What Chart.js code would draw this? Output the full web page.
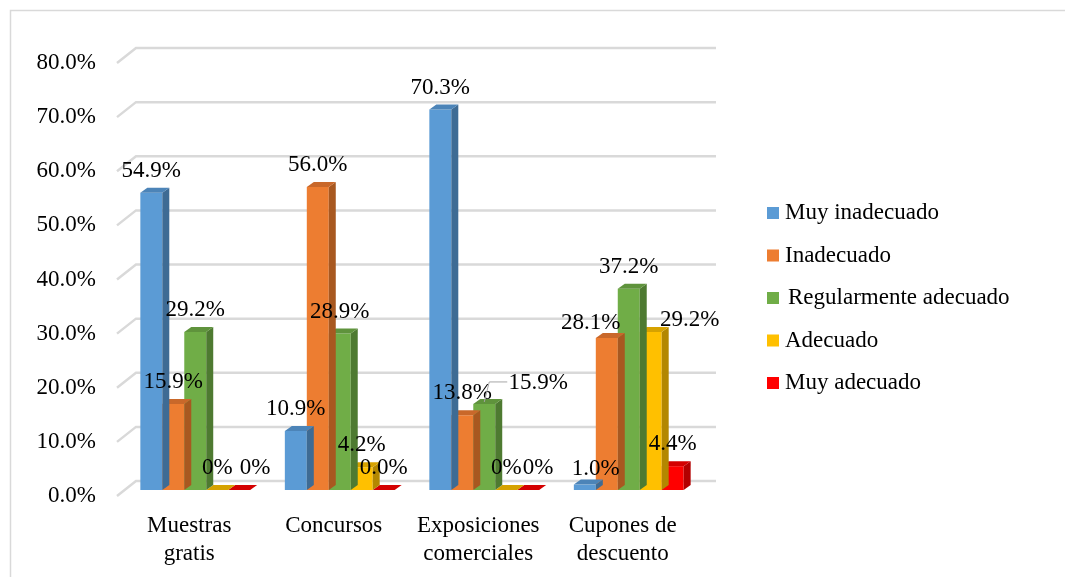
<!DOCTYPE html>
<html lang="es">
<head>
  <meta charset="UTF-8">
  <title>Promociones</title>
  <script src="https://cdn.jsdelivr.net/npm/chart.js"></script>
  <style>
    body { margin: 0; background: #fff; }
    #wrap { position: relative; width: 1065px; height: 577px; }
  </style>
</head>
<body>
  <div id="wrap"><canvas id="grafico"></canvas></div>

<script>
  // datos
  const categorias = [['Muestras', 'gratis'], ['Concursos'], ['Exposiciones', 'comerciales'], ['Cupones de', 'descuento']];
  const series = ['Muy inadecuado', 'Inadecuado', 'Regularmente adecuado', 'Adecuado', 'Muy adecuado'];
  const muyInadecuado = [54.9, 10.9, 70.3, 1.0];
  const inadecuado = [15.9, 56.0, 13.8, 28.1];
  const regular = [29.2, 28.9, 15.9, 37.2];
  const adecuado = [0, 4.2, 0, 29.2];
  const muyAdecuado = [0, 0, 0, 4.4];
  const ticksY = [0, 10, 20, 30, 40, 50, 60, 70, 80];

  // colores: frente, lado, tapa
  const colores = [
    ['#5b9bd5', '#3e6b94', '#4c84b8'],
    ['#ed7d31', '#a85820', '#c9682a'],
    ['#70ad47', '#4e7a31', '#5f933c'],
    ['#ffc000', '#b38700', '#d6a200'],
    ['#ff0000', '#b30000', '#d40000']
  ];

  const fuente = '"Liberation Serif", "Times New Roman", serif';
  const tam = 23;

  // etiquetas movidas a mano (serie-categoria)
  const ajusteEtiqueta = {
    '4-0': [16, 0],
    '2-2': [54, 1],
    '4-2': [10, 0],
    '0-3': [11, 6],
    '1-3': [-16, 7],
    '3-3': [39, 10]
  };
  const textoEtiqueta = { '4-1': '0.0%' };

  const DX = 7, DY = -5;  // profundidad de las barras

  function poly(ctx, pts, color) {
    ctx.beginPath();
    ctx.moveTo(pts[0][0], pts[0][1]);
    for (let i = 1; i < pts.length; i++) ctx.lineTo(pts[i][0], pts[i][1]);
    ctx.closePath();
    ctx.fillStyle = color;
    ctx.fill();
  }

  const marco = {
    id: 'marco',
    beforeDraw(chart) {
      const ctx = chart.ctx;
      ctx.save();
      ctx.strokeStyle = '#d9d9d9';
      ctx.lineWidth = 1.5;
      ctx.strokeRect(10.5, 10.5, 1080, 600);
      ctx.restore();
    },
    beforeDatasetsDraw(chart) {
      // rejilla en perspectiva
      const ctx = chart.ctx;
      const y = chart.scales.y;
      const a = chart.chartArea;
      ctx.save();
      ctx.strokeStyle = '#d9d9d9';
      ctx.lineWidth = 2.5;
      ticksY.forEach(v => {
        const py = y.getPixelForValue(v);
        ctx.beginPath();
        ctx.moveTo(a.left - 6, py + 6);
        ctx.lineTo(a.left + 13, py - 9);
        ctx.lineTo(a.right + 15, py - 9);
        ctx.stroke();
      });
      ctx.restore();
    },
    afterDatasetDraw(chart, args) {
      const ctx = chart.ctx;
      const i = args.index;
      const c = colores[i];
      args.meta.data.forEach(bar => {
        const p = bar.getProps(['x', 'y', 'base', 'width'], true);
        const l = p.x - p.width / 2, r = p.x + p.width / 2;
        if (p.base - p.y > 0.5) {
          poly(ctx, [[r, p.y], [r + DX, p.y + DY], [r + DX, p.base + DY], [r, p.base]], c[1]);
        }
        poly(ctx, [[l, p.y], [l + DX, p.y + DY], [r + DX, p.y + DY], [r, p.y]], c[2]);
      });
    },
    afterDatasetsDraw(chart) {
      const ctx = chart.ctx;
      ctx.save();
      ctx.font = tam + 'px ' + fuente;
      ctx.fillStyle = '#000';
      ctx.textAlign = 'center';
      ctx.textBaseline = 'middle';
      chart.data.datasets.forEach((ds, i) => {
        chart.getDatasetMeta(i).data.forEach((bar, j) => {
          const k = i + '-' + j;
          const v = ds.data[j];
          const aj = ajusteEtiqueta[k] || [0, 0];
          const x = bar.x + aj[0];
          const y = bar.y - 22 + aj[1];
          let t = textoEtiqueta[k] || (v === 0 ? '0%' : v.toFixed(1) + '%');
          if (k === '2-2') {
            ctx.strokeStyle = '#a6a6a6';
            ctx.lineWidth = 1;
            ctx.beginPath();
            ctx.moveTo(bar.x, bar.y - 2);
            ctx.lineTo(bar.x + 5, y - 1);
            ctx.lineTo(x - 31, y - 1);
            ctx.stroke();
          }
          ctx.fillText(t, x, y);
        });
      });

      // leyenda
      ctx.textAlign = 'left';
      series.forEach((s, i) => {
        const ly = 213 + i * 42.5;
        ctx.fillStyle = colores[i][0];
        ctx.fillRect(767, ly - 6, 12, 12);
        ctx.fillStyle = '#000';
        ctx.fillText(s, i === 2 ? 788 : 785, ly);
      });
      ctx.restore();
    }
  };

  const valores = [muyInadecuado, inadecuado, regular, adecuado, muyAdecuado];

  new Chart(document.getElementById('grafico'), {
    type: 'bar',
    data: {
      labels: categorias,
      datasets: series.map((s, i) => ({
        label: s,
        data: valores[i],
        backgroundColor: colores[i][0],
        borderWidth: 0,
        categoryPercentage: 0.76,
        barPercentage: 1
      }))
    },
    options: {
      responsive: true,
      maintainAspectRatio: false,
      animation: false,
      layout: { padding: { left: 10, right: 364, top: 57, bottom: 0 } },
      plugins: {
        legend: { display: false },
        tooltip: { enabled: false }
      },
      scales: {
        y: {
          min: 0,
          max: 80,
          afterFit(s) { s.width = 113; },
          grid: { display: false },
          border: { display: false },
          ticks: {
            stepSize: 10,
            padding: 19,
            labelOffset: 6,
            color: '#000',
            font: { family: fuente, size: tam }
          ,
            callback: v => v.toFixed(1) + '%'
          }
        },
        x: {
          afterFit(s) { s.height = 87; },
          grid: { display: false },
          border: { display: false },
          ticks: {
            padding: 14,
            labelOffset: -6,
            maxRotation: 0,
            color: '#000',
            font: { family: fuente, size: tam, lineHeight: 1.22 }
          }
        }
      }
    },
    plugins: [marco]
  });
</script>
</body>
</html>
